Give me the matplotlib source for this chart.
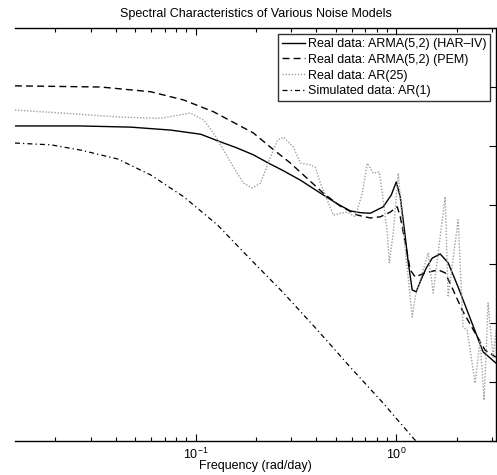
import numpy as np
import matplotlib
matplotlib.use('Agg')
from matplotlib import pyplot as plt
from matplotlib.ticker import LogLocator, NullFormatter

# Data --------------------------------------------
# spectra in dB

freqHar = [0.01257, 0.0268, 0.0475, 0.0751, 0.1059, 0.1331, 0.1600, 0.1943, 0.2307, 0.2741,
           0.3331, 0.4332, 0.5087, 0.5904, 0.6620, 0.7423, 0.8615, 0.9443, 1.0, 1.047,
           1.109, 1.147, 1.201, 1.257, 1.347, 1.410, 1.511, 1.656, 1.814, 2.034,
           2.281, 2.709, 3.1416]
specHar = [-6.6, -6.6, -6.8, -7.3, -8.0, -9.3, -10.3, -11.5, -12.9, -14.2,
           -15.8, -18.3, -19.8, -21.0, -21.3, -21.4, -20.3, -18.3, -16.1, -18.6,
           -25.4, -29.7, -34.4, -34.7, -32.2, -30.7, -29.0, -28.3, -29.8, -33.9,
           -38.3, -44.9, -46.8]

freqPem = [0.01257, 0.0337, 0.0597, 0.0872, 0.1229, 0.1943, 0.2361, 0.2970, 0.4332, 0.5265,
           0.6397, 0.7423, 0.8325, 0.9336, 1.0115, 1.047, 1.109, 1.174, 1.243, 1.394,
           1.618, 1.753, 1.921, 2.130, 2.472, 2.772, 3.1416]
specPem = [0.2, 0.0, -0.8, -2.2, -4.2, -7.8, -10.2, -12.9, -18.0, -20.2,
           -21.7, -22.2, -22.0, -21.2, -20.3, -22.0, -26.4, -31.0, -32.2, -31.5,
           -31.0, -31.5, -34.4, -37.8, -41.7, -44.6, -45.8]

freqAr25 = [0.01257, 0.0213, 0.0423, 0.0670, 0.0944, 0.1096, 0.1229, 0.1378, 0.1546, 0.1733,
            0.1921, 0.2106, 0.2361, 0.2559, 0.2741, 0.3073, 0.3331, 0.3733, 0.3954, 0.4187,
            0.4536, 0.4859, 0.5265, 0.5706, 0.6252, 0.6773, 0.7171, 0.7683, 0.8230, 0.8615,
            0.9020, 0.9230, 0.9663, 1.023, 1.071, 1.201, 1.243, 1.443, 1.528, 1.753,
            1.814, 2.034, 2.154, 2.255, 2.472, 2.618, 2.741, 2.869, 3.038, 3.1416]
specAr25 = [-3.9, -4.4, -5.1, -5.3, -4.4, -5.6, -7.8, -10.7, -13.6, -16.3,
            -17.1, -16.3, -11.9, -9.0, -8.5, -10.2, -12.9, -13.2, -13.6, -16.3,
            -19.2, -21.7, -21.4, -21.2, -22.0, -18.0, -12.9, -14.6, -14.4, -19.2,
            -24.7, -29.8, -24.7, -14.6, -22.5, -39.0, -35.6, -28.1, -34.9, -18.6,
            -35.6, -22.5, -40.7, -41.2, -50.2, -42.9, -53.1, -36.6, -45.8, -41.2]

freqAr1 = [0.01257, 0.0190, 0.0268, 0.0409, 0.0597, 0.0872, 0.1287, 0.1877, 0.2741, 0.4046,
           0.5904, 0.8615, 1.215, 1.656]
specAr1 = [-9.5, -9.8, -10.7, -12.2, -14.9, -18.6, -23.4, -29.2, -34.9, -41.2,
           -47.5, -53.6, -59.5, -64.4]

labels = ['Real data: ARMA(5,2) (HAR\u2013IV)', 'Real data: ARMA(5,2) (PEM)',
          'Real data: AR(25)', 'Simulated data: AR(1)']

# Plot --------------------------------------------

plt.rcParams['font.family'] = ['Liberation Sans', 'DejaVu Sans']
plt.rcParams['mathtext.fontset'] = 'custom'
plt.rcParams['mathtext.rm'] = 'Liberation Sans'
plt.rcParams['mathtext.it'] = 'Liberation Sans:italic'
plt.rcParams['font.size'] = 9

fig = plt.figure(figsize=(4.97, 4.75), dpi=100)
ax = fig.add_axes([0.030, 0.0716, 0.968, 0.8694])

ax.plot(freqHar, specHar, color='black', lw=1.0, label=labels[0])
ax.plot(freqPem, specPem, color='black', lw=1.0, dashes=(5, 3), label=labels[1])
ax.plot(freqAr25, specAr25, color='#a0a0a0', lw=1.0, dashes=(1, 1.2), label=labels[2])
ax.plot(freqAr1, specAr1, color='black', lw=0.9, dashes=(4, 2.5, 1, 2.5), label=labels[3])

ax.set_xscale('log')
ax.set_xlim(0.01257, np.pi)
ax.set_ylim(-60, 10)
ax.set_yticks(np.arange(-60, 11, 10))
ax.xaxis.set_minor_locator(LogLocator(base=10, subs=np.arange(2, 10)))
ax.xaxis.set_minor_formatter(NullFormatter())

ax.spines['left'].set_visible(False)
for s in ['top', 'right', 'bottom']:
    ax.spines[s].set_linewidth(1.0)
ax.tick_params(which='both', direction='in', top=True, right=True, left=False,
               labelleft=False, labelright=False, width=0.8)
ax.tick_params(which='major', length=5, pad=4)
ax.tick_params(which='minor', length=3)

ax.set_title('Spectral Characteristics of Various Noise Models', fontsize=9, pad=8)
ax.set_xlabel('Frequency (rad/day)', fontsize=9, labelpad=-1)

leg = ax.legend(loc='upper right', fontsize=9, frameon=True, fancybox=False,
                handlelength=1.85, handletextpad=0.2, borderpad=0.3, labelspacing=0.3,
                borderaxespad=0.5)
leg.get_frame().set_edgecolor('black')
leg.get_frame().set_linewidth(1.0)

fig.savefig('out.png', dpi=100)
